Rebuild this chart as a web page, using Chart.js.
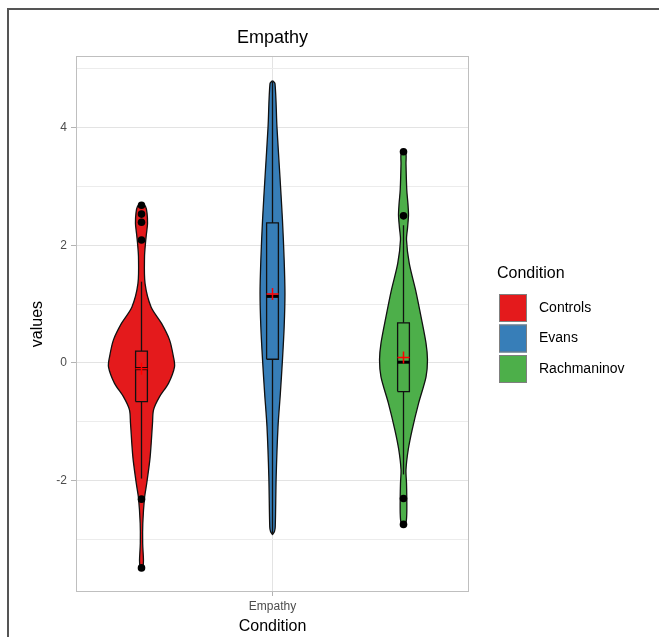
<!DOCTYPE html>
<html>
<head>
<meta charset="utf-8">
<script src="https://cdn.jsdelivr.net/npm/chart.js@4.4.1/dist/chart.umd.min.js"></script>
<style>
  html, body { margin: 0; padding: 0; background: #fff; overflow: hidden; }
  #wrap { position: relative; width: 659px; height: 637px; }
  #frame { position: absolute; left: 7px; top: 8px; right: -10px; bottom: -10px;
           border-left: 2px solid #555; border-top: 2px solid #555; pointer-events: none; }
  canvas { position: absolute; left: 0; top: 0; }
</style>
</head>
<body>
<div id="wrap">
  <canvas id="myChart" width="659" height="637"></canvas>
  <div id="frame"></div>
</div>
<script>
// 데이터 //////////////////////////////////////////////////////////
const groups = ["Controls", "Evans", "Rachmaninov"];
const colors = ["#E41A1C", "#377EB8", "#4DAF4A"];
const centers = [-1, 0, 1]; // dodge position of each group
const yTicks = [-3, -2, -1, 0, 1, 2, 3, 4, 5];

// violin outline: values (top -> bottom) and half widths (x units)
const controlsY = [2.72, 2.66, 2.55, 2.37, 2.2, 2.05, 1.8, 1.35, 0.95, 0.67, 0.39, 0.10, -0.07, -0.35, -0.58, -0.80, -1.03, -1.6, -2.05, -2.30, -2.73, -3.07, -3.36, -3.47, -3.52];
const controlsW = [0, 0.031, 0.042, 0.046, 0.038, 0.031, 0.023, 0.027, 0.073, 0.153, 0.214, 0.244, 0.252, 0.206, 0.137, 0.092, 0.084, 0.066, 0.040, 0.023, 0.010, 0.009, 0.015, 0.011, 0];
const evansY = [4.80, 4.75, 4.01, 3.16, 2.43, 1.75, 1.18, 0.61, 0.05, -0.52, -1.09, -1.94, -2.79, -2.87, -2.92];
const evansW = [0, 0.019, 0.034, 0.057, 0.076, 0.089, 0.095, 0.089, 0.076, 0.060, 0.042, 0.028, 0.021, 0.015, 0];
const rachY = [3.62, 3.55, 3.39, 2.94, 2.70, 2.51, 2.30, 2.09, 1.69, 1.24, 0.78, 0.33, 0.05, -0.24, -0.69, -1.14, -1.48, -1.82, -2.05, -2.28, -2.56, -2.72, -2.78];
const rachW = [0, 0.019, 0.019, 0.025, 0.034, 0.038, 0.031, 0.023, 0.044, 0.092, 0.134, 0.172, 0.183, 0.172, 0.115, 0.066, 0.036, 0.019, 0.023, 0.025, 0.025, 0.019, 0];

// box stats: [lower whisker, q1, median, q3, upper whisker]
const controlsBox = [-1.97, -0.66, -0.10, 0.20, 1.38];
const evansBox = [-2.92, 0.06, 1.13, 2.38, 4.78];
const rachBox = [-1.90, -0.49, 0.01, 0.68, 2.34];
const means = [-0.10, 1.17, 0.09];

// outliers
const controlsOut = [2.68, 2.53, 2.39, 2.09, -2.32, -3.49];
const evansOut = [];
const rachOut = [3.59, 2.50, -2.31, -2.75];

const violinY = [controlsY, evansY, rachY];
const violinW = [controlsW, evansW, rachW];
const boxes = [controlsBox, evansBox, rachBox];
const outliers = [controlsOut, evansOut, rachOut];
const boxHalf = 0.045;

Chart.defaults.font.family = "'Liberation Sans', Arial, sans-serif";

// 데이터셋 만들기 ///////////////////////////////////////////////////
let datasets = [];
for (let i = 0; i < groups.length; i++) {
  let c = centers[i];
  let ys = violinY[i], ws = violinW[i];
  let pts = [];
  // right side going down, then left side going back up
  for (let k = 0; k < ys.length; k++) pts.push({ x: c + ws[k], y: ys[k] });
  for (let k = ys.length - 1; k >= 0; k--) pts.push({ x: c - ws[k], y: ys[k] });
  datasets.push({
    type: "line", label: groups[i], data: pts, order: 10,
    backgroundColor: colors[i], borderColor: "#111", borderWidth: 1.3,
    fill: "shape", tension: 0.3, pointRadius: 0,
  });

  let b = boxes[i];
  datasets.push({
    type: "line", data: [{ x: c, y: b[0] }, { x: c, y: b[4] }], order: 9,
    borderColor: "#111", borderWidth: 1.3, pointRadius: 0, fill: false,
  });
  datasets.push({
    type: "line", order: 8,
    data: [{ x: c - boxHalf, y: b[1] }, { x: c + boxHalf, y: b[1] }, { x: c + boxHalf, y: b[3] },
           { x: c - boxHalf, y: b[3] }, { x: c - boxHalf, y: b[1] }],
    backgroundColor: colors[i], borderColor: "#111", borderWidth: 1.3,
    fill: "shape", tension: 0, pointRadius: 0,
  });
  datasets.push({
    type: "line", order: 7,
    data: [{ x: c - boxHalf, y: b[2] }, { x: c + boxHalf, y: b[2] }],
    borderColor: "#000", borderWidth: 3, pointRadius: 0, fill: false,
  });
  datasets.push({
    type: "scatter", order: 6, data: [{ x: c, y: means[i] }],
    pointStyle: "cross", pointRadius: 6, borderColor: "#ff0000", borderWidth: 1.5,
  });
  datasets.push({
    type: "scatter", order: 5, data: outliers[i].map(v => ({ x: c, y: v })),
    pointStyle: "circle", pointRadius: 3.8, backgroundColor: "#000", borderColor: "#000", borderWidth: 0,
  });
}

// 제목, 테두리, 범례 /////////////////////////////////////////////////
const extras = {
  id: "extras",
  afterDraw(chart) {
    const ctx = chart.ctx;
    const a = chart.chartArea;
    ctx.save();
    ctx.strokeStyle = "#bfbfbf";
    ctx.lineWidth = 1;
    ctx.strokeRect(a.left + 0.5, a.top + 0.5, a.right - a.left - 1, a.bottom - a.top - 1);

    ctx.fillStyle = "#000";
    ctx.textAlign = "center";
    ctx.textBaseline = "middle";
    ctx.font = "18px 'Liberation Sans', Arial, sans-serif";
    ctx.fillText("Empathy", (a.left + a.right) / 2, 38);

    // legend
    ctx.textAlign = "left";
    ctx.font = "16px 'Liberation Sans', Arial, sans-serif";
    ctx.fillText("Condition", 497, 274);
    ctx.font = "14px 'Liberation Sans', Arial, sans-serif";
    for (let i = 0; i < groups.length; i++) {
      let y = 294 + i * 30.5;
      ctx.fillStyle = colors[i];
      ctx.fillRect(499, y, 28, 28);
      ctx.strokeStyle = "#7f7f7f";
      ctx.strokeRect(499.5, y + 0.5, 27, 27);
      ctx.fillStyle = "#000";
      ctx.fillText(groups[i], 539, y + 14);
    }
    ctx.restore();
  },
};

let ctx = document.getElementById("myChart").getContext("2d");
let myChart = new Chart(ctx, {
  type: "scatter",
  data: { datasets: datasets },
  options: {
    responsive: false,
    animation: false,
    events: [],
    layout: { padding: { left: 0, top: 56, right: 190, bottom: 0 } },
    plugins: { legend: { display: false }, title: { display: false }, tooltip: { enabled: false } },
    scales: {
      x: {
        type: "linear", min: -1.5, max: 1.5,
        afterBuildTicks: axis => { axis.ticks = [{ value: 0 }]; },
        afterFit: s => { s.height = 45; },
        ticks: { callback: () => "Empathy", color: "#4d4d4d", font: { size: 12 }, padding: 3, autoSkip: false, maxRotation: 0 },
        grid: { color: "#e3e3e3", tickColor: "#b3b3b3", tickLength: 4 },
        border: { display: false },
        title: { display: true, text: "Condition", color: "#000", font: { size: 16 }, padding: { top: 0, bottom: 1 } },
      },
      y: {
        type: "linear", min: -3.9, max: 5.22,
        afterBuildTicks: axis => { axis.ticks = yTicks.map(v => ({ value: v })); },
        afterFit: s => { s.width = 76; },
        ticks: {
          callback: v => (v % 2 === 0 ? String(v) : ""),
          color: "#4d4d4d", font: { size: 12 }, padding: 4, autoSkip: false,
        },
        grid: {
          color: c => (c.tick && c.tick.value % 2 === 0 ? "#e3e3e3" : "#ececec"),
          tickColor: c => (c.tick && c.tick.value % 2 === 0 ? "#b3b3b3" : "rgba(0,0,0,0)"),
          tickLength: 5,
        },
        border: { display: false },
        title: { display: true, text: "values", color: "#000", font: { size: 16 }, padding: { top: 28, bottom: 0 } },
      },
    },
  },
  plugins: [extras],
});
</script>
</body>
</html>
